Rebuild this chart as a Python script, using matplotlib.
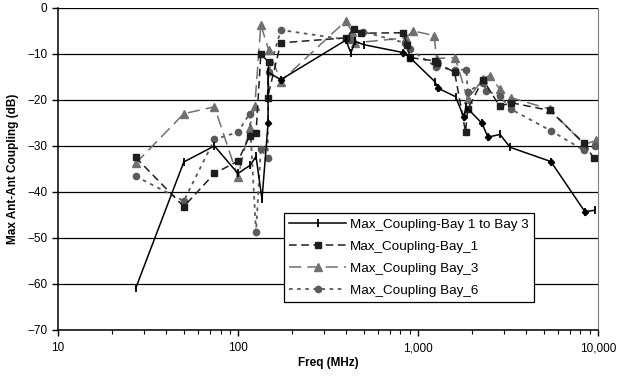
import matplotlib
matplotlib.use('Agg')
import matplotlib.pyplot as plt
from matplotlib.ticker import FixedLocator, LogLocator, NullFormatter

plt.rcParams['font.family'] = ['Liberation Sans', 'DejaVu Sans']

# Max_Coupling-Bay 1 to Bay 3
f_13 = [27, 50, 74, 100, 117, 126, 136, 147, 147, 173, 398, 424, 447, 501, 826, 903,
        1240, 1300, 1620, 1800, 1850, 2270, 2450, 2860, 3250, 5480, 8470, 9620]
v_13 = [-61, -33.5, -30, -36, -34.2, -32.3, -41.6, -25.1, -14, -15.6, -7, -9.8, -7.3, -8, -9.7, -10.8,
        -16, -17.5, -19.3, -23.8, -21.5, -25.1, -28.1, -27.5, -30.3, -33.4, -44.3, -44]
diamond_idx = [7, 9, 14, 15, 17, 19, 21, 22, 25, 26]

# Max_Coupling-Bay_1
f_b1 = [27, 50, 74, 100, 116, 126, 134, 148, 146, 173, 400, 440, 480, 830, 870, 900,
        1240, 1280, 1600, 1840, 1890, 2300, 2850, 3290, 5410, 8360, 9500]
v_b1 = [-32.5, -43.2, -36, -33.3, -27.9, -27.3, -10, -11.8, -19.5, -7.6, -6.5, -4.5, -5.5, -5.4, -8, -10.8,
        -11.5, -12, -14, -27, -22, -15.6, -21.4, -20.6, -22.3, -29.4, -32.7]

# Max_Coupling Bay_3
f_b3 = [27, 50, 74, 100, 116, 124, 134, 148, 173, 398, 430, 445, 860, 935, 1230, 1270,
        1610, 1890, 2300, 2500, 2860, 3280, 5400, 8400, 9800]
v_b3 = [-33.8, -23, -21.5, -36.8, -26, -21.4, -3.7, -9.1, -16, -2.8, -5.2, -7.6, -6.5, -5, -6, -11,
        -10.8, -19.9, -15.4, -14.7, -17.7, -19.5, -22, -29.7, -28.8]

# Max_Coupling Bay_6
f_b6 = [27, 50, 74, 100, 116, 126, 134, 146, 148, 173, 420, 494, 850, 900, 1260,
        1600, 1860, 1890, 2300, 2400, 2860, 3280, 5480, 8400, 9600]
v_b6 = [-36.6, -42, -28.6, -27, -23, -48.7, -30.6, -32.7, -14, -4.8, -7, -5.2, -7.6, -9, -12.8,
        -13.5, -13.4, -18.2, -16.3, -18, -19.2, -22, -26.7, -31, -30]

fig = plt.figure(figsize=(6.17, 3.77), dpi=100)
ax = fig.add_axes([0.094, 0.125, 0.875, 0.854])

ax.plot(f_13, v_13, color='black', lw=1.1, marker='|', ms=6, mew=1.3,
        label='Max_Coupling-Bay 1 to Bay 3', zorder=5)
ax.plot([f_13[i] for i in diamond_idx], [v_13[i] for i in diamond_idx], ls='none',
        marker='D', ms=3.2, color='black', zorder=5)
ax.plot(f_b1, v_b1, color='#1e1e1e', lw=1.1, ls=(0, (5, 3)), marker='s', ms=5,
        label='Max_Coupling-Bay_1', zorder=4)
ax.plot(f_b3, v_b3, color='#707070', lw=1.1, ls=(0, (8, 4)), marker='^', ms=5.5,
        label='Max_Coupling Bay_3', zorder=3)
ax.plot(f_b6, v_b6, color='#5a5a5a', lw=1.3, ls=(0, (2, 2.5)), marker='o', ms=4.5,
        label='Max_Coupling Bay_6', zorder=3)

ax.set_xscale('log')
ax.set_xlim(10, 10000)
ax.set_ylim(-70, 0)
ax.set_yticks(range(-70, 1, 10))
ax.xaxis.set_major_locator(FixedLocator([10, 100, 1000, 10000]))
ax.set_xticklabels(['10', '100', '1,000', '10,000'])
ax.xaxis.set_minor_locator(LogLocator(base=10, subs=range(2, 10)))
ax.xaxis.set_minor_formatter(NullFormatter())
ax.tick_params(axis='both', which='major', labelsize=8.5, direction='out', length=4, width=1)
ax.tick_params(axis='x', which='minor', direction='out', length=3, width=0.8)
ax.tick_params(axis='x', which='major', pad=5)
ax.grid(axis='y', color='black', lw=0.9)
ax.set_axisbelow(True)

ax.spines['top'].set_visible(False)
ax.spines['right'].set_color('#808080')
ax.spines['left'].set_lw(1.1)
ax.spines['bottom'].set_lw(1.1)

ax.set_xlabel('Freq (MHz)', fontsize=8.5, fontweight='bold', labelpad=2)
ax.set_ylabel('Max Ant-Ant Coupling (dB)', fontsize=8.5, fontweight='bold', labelpad=6)

leg = ax.legend(loc='upper left', bbox_to_anchor=(0.4185, 0.364), fontsize=9.7,
                frameon=True, fancybox=False, edgecolor='black', framealpha=1,
                handlelength=4.2, borderpad=0.4, labelspacing=0.72, handletextpad=0.3,
                borderaxespad=0)
leg.get_frame().set_linewidth(0.9)

fig.savefig('out.png', dpi=100)
